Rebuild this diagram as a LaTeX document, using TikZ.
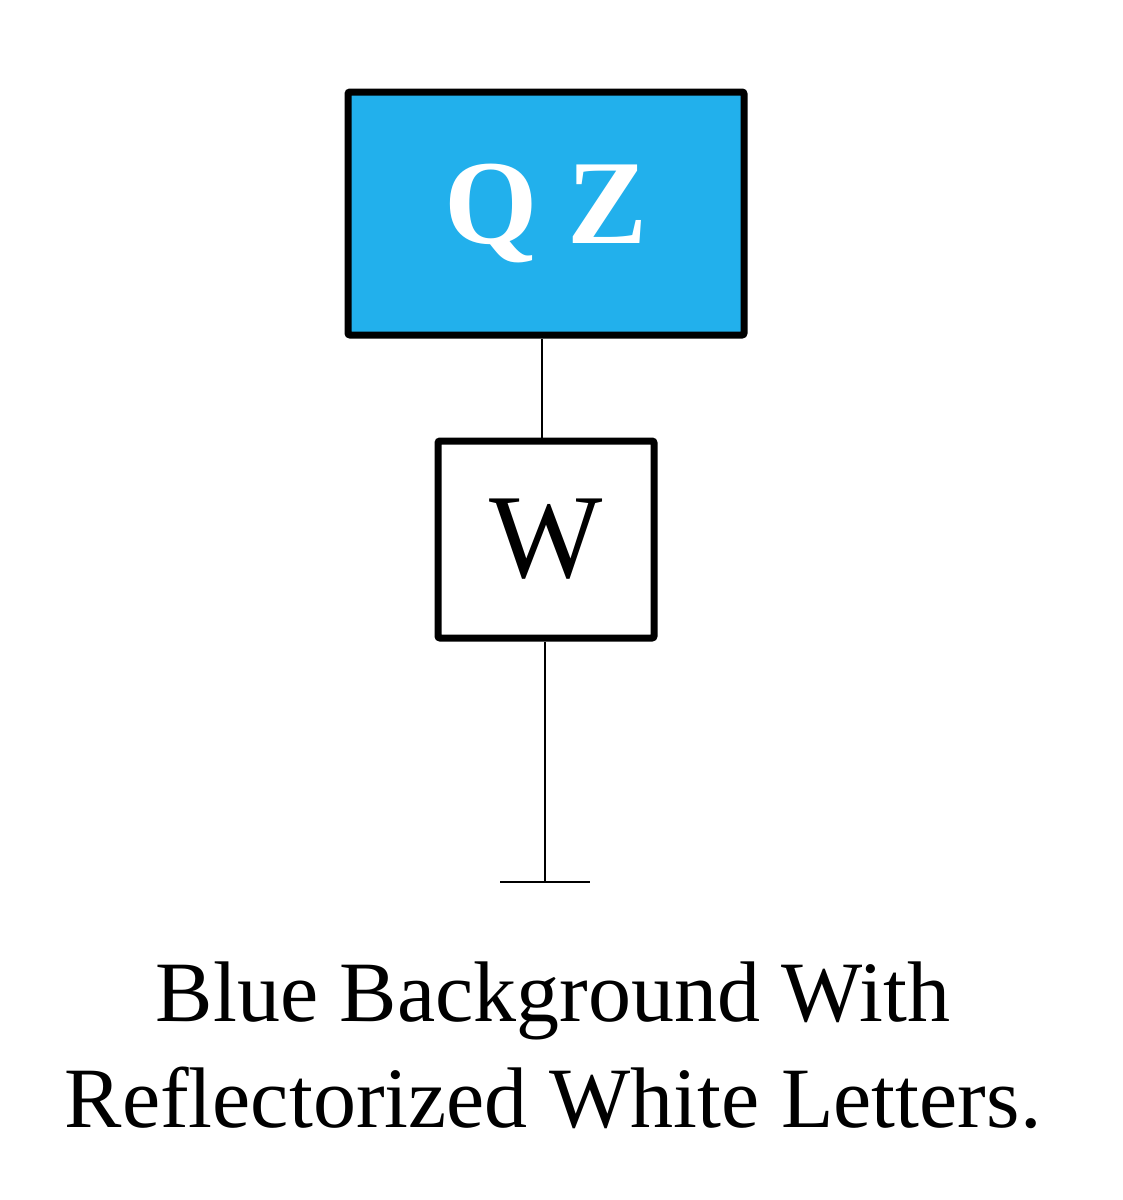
\documentclass[tikz,border=0pt]{standalone}
\usepackage{fontspec}
\setmainfont{Liberation Serif}
\definecolor{signblue}{HTML}{22B0EC}
\begin{document}
\begin{tikzpicture}[x=1pt,y=-1pt,
  box/.style={draw=black,line width=7pt,rounded corners=2pt,inner sep=0pt},
  pole/.style={line width=2pt}]
\useasboundingbox (0,0) rectangle (1123,1200);
\node[box,fill=signblue,minimum width=396pt,minimum height=243pt,text=white,font=\fontsize{120}{120}\selectfont\bfseries] (qz) at (546,213.5) {Q Z};
\node[box,fill=white,minimum width=216pt,minimum height=197pt,font=\fontsize{120}{120}\selectfont] (w) at (546,539.5) {W};
\coordinate (base) at (545,882);
\coordinate (bl) at (500,882);
\coordinate (br) at (590,882);
\draw[pole] (qz.south -| 542,0) -- (w.north -| 542,0);
\draw[pole] (w.south -| 545,0) -- (base);
\draw[pole] (bl) -- (br);
\node[align=center,font=\fontsize{86}{106}\selectfont] (cap) at (553,1045) {Blue Background With\\Reflectorized White Letters.};
\end{tikzpicture}
\end{document}
